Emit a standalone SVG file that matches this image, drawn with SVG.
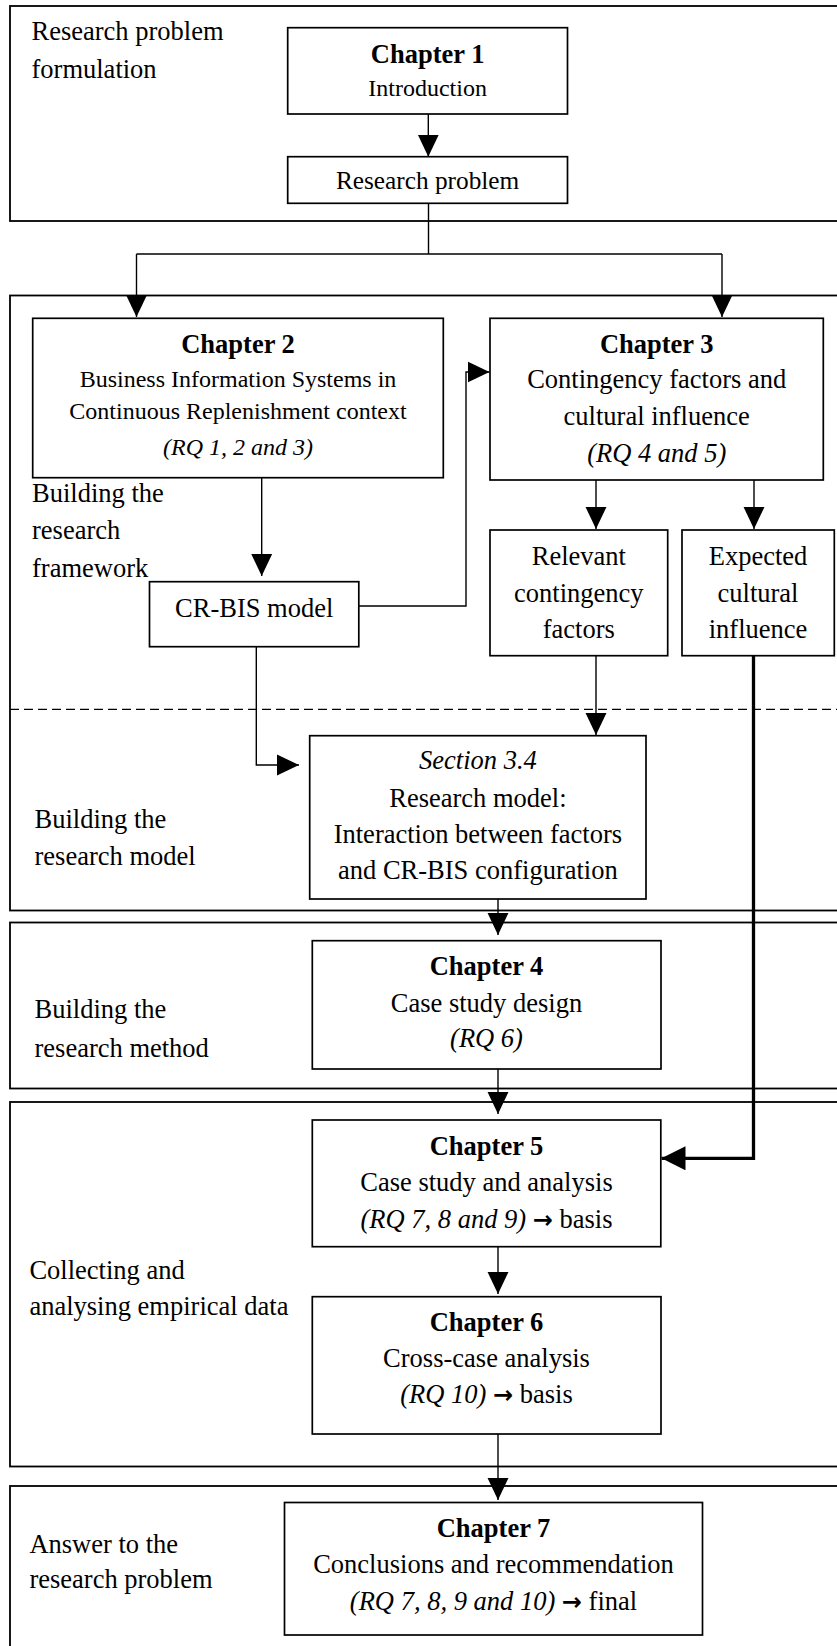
<svg xmlns="http://www.w3.org/2000/svg" width="837" height="1646" viewBox="0 0 837 1646">
  <style>
    text { font-family: "Liberation Serif", "Times New Roman", serif; font-size: 26.5px; fill: #000; }
    .c { text-anchor: middle; }
    .b { font-weight: bold; }
    .i { font-style: italic; }
    .s { font-size: 24px; }
    .arr { font-family: "DejaVu Sans", sans-serif; font-weight: bold; font-size: 24px; }
    .band { fill: none; stroke: #000; stroke-width: 1.8; }
    .box { fill: #fff; stroke: #000; stroke-width: 1.7; }
    .ln { fill: none; stroke: #000; stroke-width: 1.4; }
    .thick { fill: none; stroke: #000; stroke-width: 3.3; }
    .dash { fill: none; stroke: #000; stroke-width: 1.3; stroke-dasharray: 9 5; }
  </style>
  <defs>
    <marker id="arrow" markerUnits="userSpaceOnUse" markerWidth="22" markerHeight="22" viewBox="0 0 20 20" refX="20" refY="10" orient="auto">
      <path d="M0,0.5 L20,10 L0,19.5 Z" fill="#000"/>
    </marker>
    <marker id="arrowL" markerUnits="userSpaceOnUse" markerWidth="24" markerHeight="24" viewBox="0 0 22 22" refX="22" refY="11" orient="auto">
      <path d="M0,0 L22,11 L0,22 Z" fill="#000"/>
    </marker>
  </defs>

  <!-- phase bands -->
  <g id="bands">
    <rect class="band" x="10" y="6" width="850" height="215"/>
    <rect class="band" x="10" y="295.5" width="850" height="615"/>
    <rect class="band" x="10" y="922.5" width="850" height="166"/>
    <rect class="band" x="10" y="1102" width="850" height="364.5"/>
    <rect class="band" x="10" y="1486" width="850" height="180"/>
    <line class="dash" x1="10" y1="709.3" x2="837" y2="709.3"/>
  </g>

  <!-- phase labels -->
  <g id="labels">
    <text x="31.5" y="40">Research problem</text>
    <text x="31.5" y="78.3">formulation</text>
    <text x="32" y="501.7">Building the</text>
    <text x="32" y="539.3">research</text>
    <text x="32" y="576.7">framework</text>
    <text x="34.5" y="828.3">Building the</text>
    <text x="34.5" y="865">research model</text>
    <text x="34.5" y="1018.3">Building the</text>
    <text x="34.5" y="1056.7">research method</text>
    <text x="29.4" y="1279.3">Collecting and</text>
    <text x="29.4" y="1315">analysing empirical data</text>
    <text x="29.4" y="1553">Answer to the</text>
    <text x="29.4" y="1587.5">research problem</text>
  </g>

  <!-- connectors -->
  <g id="connectors">
    <line class="ln" x1="428.3" y1="114" x2="428.3" y2="156.7" marker-end="url(#arrow)"/>
    <polyline class="ln" points="428.5,203.3 428.5,254"/>
    <polyline class="ln" points="136.5,254 722,254"/>
    <line class="ln" x1="136.5" y1="254" x2="136.5" y2="317" marker-end="url(#arrow)"/>
    <line class="ln" x1="722" y1="254" x2="722" y2="317" marker-end="url(#arrow)"/>
    <line class="ln" x1="261.7" y1="477.7" x2="261.7" y2="576" marker-end="url(#arrow)"/>
    <polyline class="ln" points="358.8,606 466,606 466,372 489.5,372" marker-end="url(#arrow)"/>
    <line class="ln" x1="596" y1="480" x2="596" y2="529" marker-end="url(#arrow)"/>
    <line class="ln" x1="754" y1="480" x2="754" y2="529" marker-end="url(#arrow)"/>
    <polyline class="ln" points="256.3,646.7 256.3,765 299,765" marker-end="url(#arrow)"/>
    <line class="ln" x1="596" y1="655.7" x2="596" y2="735" marker-end="url(#arrow)"/>
    <polyline class="thick" points="753.5,655.7 753.5,1158.3 661.5,1158.3" marker-end="url(#arrowL)"/>
    <line class="ln" x1="498" y1="899" x2="498" y2="935" marker-end="url(#arrow)"/>
    <line class="ln" x1="498" y1="1069" x2="498" y2="1114" marker-end="url(#arrow)"/>
    <line class="ln" x1="498" y1="1246.7" x2="498" y2="1294" marker-end="url(#arrow)"/>
    <line class="ln" x1="498" y1="1434" x2="498" y2="1500" marker-end="url(#arrow)"/>
  </g>

  <g id="chapter1">
    <rect class="box" x="287.7" y="27.7" width="279.8" height="86.3"/>
    <text class="c b" x="427.6" y="62.7">Chapter 1</text>
    <text class="c s" x="427.6" y="96">Introduction</text>
  </g>

  <g id="research-problem">
    <rect class="box" x="287.7" y="156.7" width="279.8" height="46.6"/>
    <text class="c" x="427.6" y="189.3" style="font-size:25.3px">Research problem</text>
  </g>

  <g id="chapter2">
    <rect class="box" x="32.7" y="318.3" width="410.6" height="159.4"/>
    <text class="c b" x="238" y="353.3">Chapter 2</text>
    <text class="c s" x="238" y="387.3">Business Information Systems in</text>
    <text class="c s" x="238" y="419">Continuous Replenishment context</text>
    <text class="c s i" x="238" y="455">(RQ 1, 2 and 3)</text>
  </g>

  <g id="chapter3">
    <rect class="box" x="490" y="318.3" width="333.3" height="161.7"/>
    <text class="c b" x="656.7" y="352.7">Chapter 3</text>
    <text class="c" x="656.7" y="388.3">Contingency factors and</text>
    <text class="c" x="656.7" y="425.3">cultural influence</text>
    <text class="c i" x="656.7" y="461.7">(RQ 4 and 5)</text>
  </g>

  <g id="crbis-model">
    <rect class="box" x="149.5" y="581.7" width="209.3" height="65"/>
    <text class="c" x="254.2" y="617.3">CR-BIS model</text>
  </g>

  <g id="contingency-factors">
    <rect class="box" x="490" y="530" width="177.7" height="125.7"/>
    <text class="c" x="578.8" y="565">Relevant</text>
    <text class="c" x="578.8" y="601.5">contingency</text>
    <text class="c" x="578.8" y="638.3">factors</text>
  </g>

  <g id="cultural-influence">
    <rect class="box" x="682" y="530" width="152.3" height="125.7"/>
    <text class="c" x="758" y="565">Expected</text>
    <text class="c" x="758" y="601.5">cultural</text>
    <text class="c" x="758" y="638.3">influence</text>
  </g>

  <g id="section34">
    <rect class="box" x="309.7" y="735.7" width="336.3" height="163.3"/>
    <text class="c i" x="477.9" y="769.3">Section 3.4</text>
    <text class="c" x="477.9" y="806.7">Research model:</text>
    <text class="c" x="477.9" y="843.3">Interaction between factors</text>
    <text class="c" x="477.9" y="879.3">and CR-BIS configuration</text>
  </g>

  <g id="chapter4">
    <rect class="box" x="312.3" y="940.7" width="348.7" height="128.3"/>
    <text class="c b" x="486.5" y="975">Chapter 4</text>
    <text class="c" x="486.5" y="1011.7">Case study design</text>
    <text class="c i" x="486.5" y="1046.7">(RQ 6)</text>
  </g>

  <g id="chapter5">
    <rect class="box" x="312.3" y="1120" width="348.5" height="126.7"/>
    <text class="c b" x="486.5" y="1155">Chapter 5</text>
    <text class="c" x="486.5" y="1190.7">Case study and analysis</text>
    <text class="c" x="486.5" y="1227.5"><tspan class="i">(RQ 7, 8 and 9)</tspan> <tspan class="arr">→</tspan> basis</text>
  </g>

  <g id="chapter6">
    <rect class="box" x="312.3" y="1296.7" width="348.7" height="137.3"/>
    <text class="c b" x="486.5" y="1330.7">Chapter 6</text>
    <text class="c" x="486.5" y="1366.7">Cross-case analysis</text>
    <text class="c" x="486.5" y="1403.3"><tspan class="i">(RQ 10)</tspan> <tspan class="arr">→</tspan> basis</text>
  </g>

  <g id="chapter7">
    <rect class="box" x="284.5" y="1502.5" width="418" height="132.5"/>
    <text class="c b" x="493.5" y="1536.7">Chapter 7</text>
    <text class="c" x="493.5" y="1573.3">Conclusions and recommendation</text>
    <text class="c" x="493.5" y="1610"><tspan class="i">(RQ 7, 8, 9 and 10)</tspan> <tspan class="arr">→</tspan> final</text>
  </g>
</svg>
